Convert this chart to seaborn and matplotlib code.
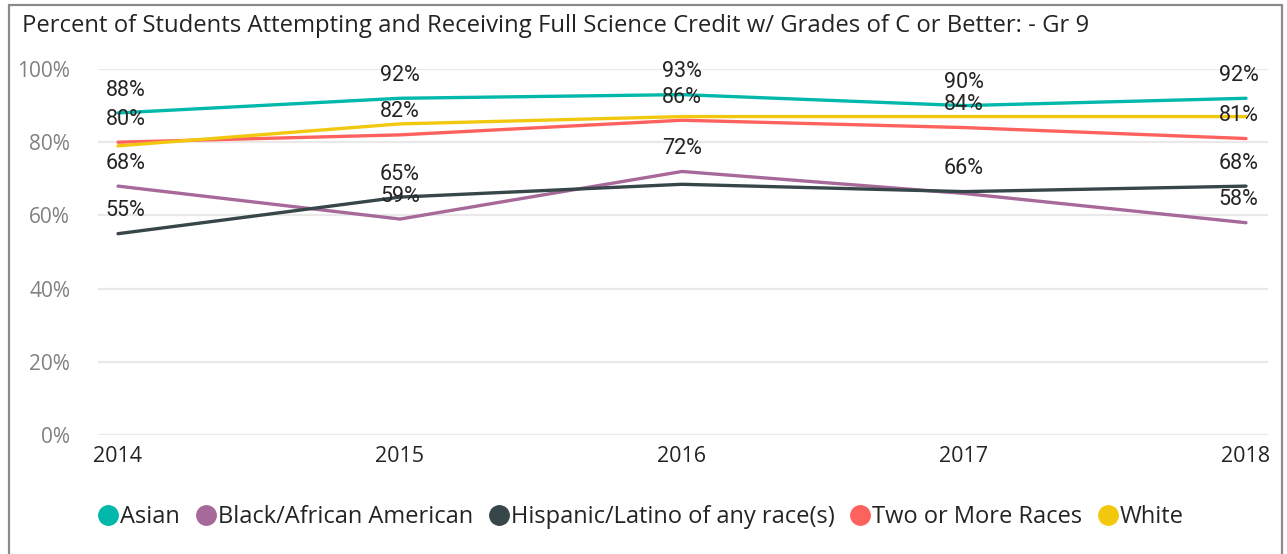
# -*- coding: utf-8 -*-
#
#  Percent of Gr 9 students receiving full science credit, by race, 2014-2018.
#
import pandas as pan
import seaborn as sns
import matplotlib.pyplot as plt
from matplotlib.lines import Line2D
from matplotlib.patches import Rectangle

years = [2014, 2015, 2016, 2017, 2018]
groups = ['Asian', 'Black/African American', 'Hispanic/Latino of any race(s)',
          'Two or More Races', 'White']

asian    = [88, 92, 93, 90, 92]
black    = [68, 59, 72, 66, 58]
hispanic = [55, 65, 68.5, 66.5, 68]
two_more = [80, 82, 86, 84, 81]
white    = [79, 85, 87, 87, 87]

# which years carry a data label (the rest are hidden by overlap in the original)
labelled = {
  'Asian': [2014, 2015, 2016, 2017, 2018],
  'Black/African American': [2014, 2015, 2016, 2018],
  'Hispanic/Latino of any race(s)': [2014, 2015, 2017, 2018],
  'Two or More Races': [2014, 2015, 2016, 2017, 2018],
  'White': [],
}

colors_dict = dict()
colors_dict['Asian'] = '#01B8AA'
colors_dict['Black/African American'] = '#A66999'
colors_dict['Hispanic/Latino of any race(s)'] = '#374649'
colors_dict['Two or More Races'] = '#FD625E'
colors_dict['White'] = '#F2C80F'

series = dict(zip(groups, [asian, black, hispanic, two_more, white]))
rows = []
for g in groups:
  for y, v in zip(years, series[g]):
    rows.append({'Year': y, 'Group': g, 'Percent': v})
df = pan.DataFrame(rows)

sns.set_style('white')
plt.rcParams['font.family'] = ['Open Sans', 'DejaVu Sans']

W, H = 1287, 554
fig = plt.figure(figsize=(W / 100, H / 100), dpi=100)
ax = fig.add_axes([98 / W, (H - 435) / H, (1268 - 98) / W, (435 - 69) / H])

sns.lineplot(data=df, x='Year', y='Percent', hue='Group', hue_order=groups,
             palette=colors_dict, linewidth=2.4, legend=False, ax=ax,
             clip_on=False)

for g in groups:
  for y, v in zip(years, series[g]):
    if y not in labelled[g]:
      continue
    dx, ha = 0, 'center'
    if y == years[0]:
      dx, ha = -9, 'left'
    elif y == years[-1]:
      dx, ha = 9, 'right'
    ax.annotate('%d%%' % round(v), (y, v), xytext=(dx, 16.5),
                textcoords='offset points', ha=ha, va='center',
                fontsize=15.5, color='#252423', family=['Roboto', 'DejaVu Sans'])

ax.set_xlim(2014 - 20 / 282, 2018 + 22 / 282)
ax.set_ylim(0, 100)
ax.set_xticks(years)
ax.set_xticklabels([str(y) for y in years])
ax.set_yticks(range(0, 101, 20))
ax.set_yticklabels(['%d%%' % t for t in range(0, 101, 20)])
ax.grid(axis='y', color='#E9E9E9', linewidth=1.6)
ax.set_axisbelow(True)
for s in ax.spines.values():
  s.set_visible(False)
ax.tick_params(axis='y', colors='#808080', labelsize=15, length=0, pad=20)
ax.tick_params(axis='x', colors='#252423', labelsize=15.5, length=0, pad=8)
ax.set_xlabel('')
ax.set_ylabel('')

fig.text(22 / W, 1 - 26 / H, 'Percent of Students Attempting and Receiving Full Science '
         'Credit w/ Grades of C or Better: - Gr 9', fontsize=17.2, color='#252423',
         ha='left', va='center')

handles = [Line2D([], [], linestyle='none', marker='o', markersize=14,
                  markerfacecolor=colors_dict[g], markeredgecolor=colors_dict[g])
           for g in groups]
fig.legend(handles, groups, loc='center', bbox_to_anchor=(642 / W, 1 - 517 / H),
           ncol=5, frameon=False, fontsize=17, handlelength=0.7,
           handletextpad=0.15, columnspacing=0.75, labelcolor='#252423')

fig.patches.append(Rectangle((9 / W, -0.01), (1282 - 9) / W, 1 - 5 / H + 0.01,
                             transform=fig.transFigure, fill=False,
                             edgecolor='#8A8A8A', linewidth=1.6))

fig.savefig('out.png', dpi=100)
